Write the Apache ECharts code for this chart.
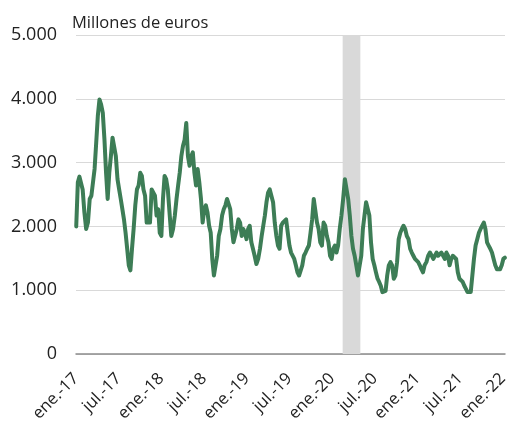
<!DOCTYPE html>
<html><head><meta charset="utf-8">
<script src="https://cdn.jsdelivr.net/npm/echarts@6/dist/echarts.min.js"></script>
<style>html,body{margin:0;padding:0;background:#fff}#c{width:511px;height:426px}</style>
</head><body><div id="c"></div>
<script>
// Weekly series, first observation on this date
const startDate = [2017, 0, 2];
const values = [
 2000,2690,2780,2750,2580,2220,1960,2060,2430,2480,2690,2900,3310,3730,3990,3910,3780,3360,2840,2430,2840,3100,3390,3420,3100,2740,2580,2430,2270,2110,1900,1650,1390,1310,1650,1960,2330,2580,2640,2840,2790,2580,2480,2060,
 2060,2060,2580,2600,2480,2170,2270,1900,1850,2430,2790,2740,2580,2220,1850,1960,2170,2430,2640,2840,3100,3260,3360,3620,3100,2950,3100,3160,2840,2640,2900,2690,2430,2060,2270,2330,2220,2010,1900,1480,1230,1200,1540,1850,
 1960,2170,2270,2330,2430,2430,2270,1960,1750,1750,1960,2110,2060,1850,1960,1900,1800,1960,2010,1750,1650,1540,1410,1490,1650,1850,2010,2170,2380,2530,2580,2560,2380,2060,1850,1700,1650,2010,2060,2080,2110,1900,1700,1590,
 1590,1490,1390,1280,1230,1230,1390,1540,1590,1650,1700,1900,2110,2430,2430,2060,1960,1750,1700,2060,2010,1850,1750,1540,1490,1650,1700,1590,1700,1960,2170,2430,2740,2770,2430,2170,1850,1650,1540,1390,1230,1230,1540,1960,
 2170,2380,2380,2170,1750,1490,1390,1280,1180,1130,1070,970,940,990,1230,1390,1440,1390,1180,1230,1440,1800,1900,1960,2010,1960,1850,1800,1650,1590,1540,1490,1490,1440,1390,1330,1280,1390,1440,1540,1590,1540,1490,1540,
 1590,1540,1540,1590,1540,1490,1590,1540,1390,1490,1540,1540,1490,1280,1180,1180,1130,1070,1020,970,940,970,1230,1490,1700,1800,1900,1960,2010,2060,1960,1750,1700,1650,1590,1490,1390,1330,1330,1330,1390,1490,1510
];
const tickLabels = ['ene.-17','jul.-17','ene.-18','jul.-18','ene.-19','jul.-19','ene.-20','jul.-20','ene.-21','jul.-21','ene.-22'];
const yTicks = [0,1000,2000,3000,4000,5000];
const shadeStart = [2020, 1, 15];
const shadeEnd = [2020, 3, 30];
const unitLabel = 'Millones de euros';

// months elapsed since Jan 2017 for a date
function monthPos(y, m, d) {
  const dim = new Date(y, m + 1, 0).getDate();
  return (y - 2017) * 12 + m + (d - 1) / dim;
}
const seriesData = values.map((v, i) => {
  const dt = new Date(startDate[0], startDate[1], startDate[2] + 7 * i);
  return [monthPos(dt.getFullYear(), dt.getMonth(), dt.getDate()), v];
});

const FONT = 'Open Sans';
const chart = echarts.init(document.getElementById('c'), null, {renderer: 'canvas'});
chart.setOption({
  animation: false,
  title: {text: unitLabel, left: 67, top: 10, textStyle: {fontFamily: FONT, fontSize: 16.5, fontWeight: 'normal', color: '#222'}},
  grid: {left: 76, right: 0, top: 35, bottom: 72},
  xAxis: {
    type: 'value', min: 0, max: 60.3, interval: 6,
    axisLine: {show: true, lineStyle: {color: '#8c8c8c', width: 1.5}},
    axisTick: {show: false},
    splitLine: {show: false},
    axisLabel: {
      rotate: 45, margin: 22, color: '#222', fontFamily: FONT, fontSize: 16.5,
      showMaxLabel: false,
      formatter: v => (Math.abs(v % 6) < 1e-6 ? (tickLabels[Math.round(v / 6)] || '') : '')
    }
  },
  yAxis: {
    type: 'value', min: yTicks[0], max: yTicks[yTicks.length - 1], interval: 1000,
    axisLine: {show: false}, axisTick: {show: false},
    splitLine: {lineStyle: {color: '#d9d9d9', width: 1}},
    axisLabel: {
      margin: 19, color: '#222', fontFamily: FONT, fontSize: 18,
      formatter: v => v === 0 ? '0' : (v / 1000) + '.000'
    }
  },
  series: [{
    type: 'line', data: seriesData, showSymbol: false,
    lineStyle: {color: '#3d7d56', width: 4, join: 'round', cap: 'round'},
    itemStyle: {color: '#3d7d56'},
    markArea: {
      silent: true,
      itemStyle: {color: '#d9d9d9'},
      data: [[{xAxis: monthPos(shadeStart[0], shadeStart[1], shadeStart[2])}, {xAxis: monthPos(shadeEnd[0], shadeEnd[1], shadeEnd[2])}]]
    },
    z: 3
  }]
});
</script></body></html>
